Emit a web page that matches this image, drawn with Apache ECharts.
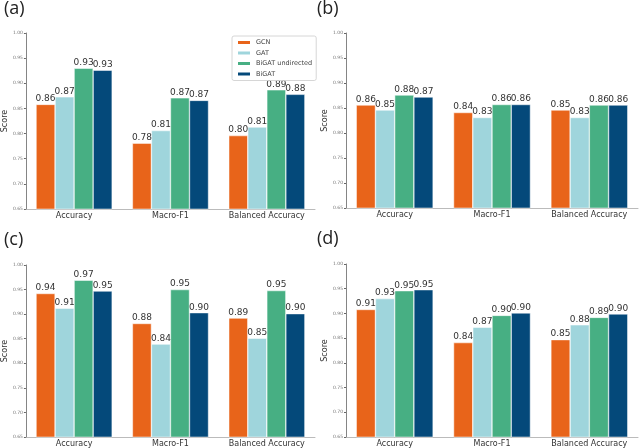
<!DOCTYPE html>
<html><head><meta charset="utf-8">
<script src="https://cdn.jsdelivr.net/npm/echarts@6/dist/echarts.min.js"></script>
<style>html,body{margin:0;padding:0;background:#fff}#c{width:640px;height:448px}</style>
</head><body><div id="c"></div>
<script>
const categories = ['Accuracy', 'Macro-F1', 'Balanced Accuracy'];
const seriesNames = ['GCN', 'GAT', 'BiGAT undirected', 'BiGAT'];
const panelLabels = ['(a)', '(b)', '(c)', '(d)'];
const yTicks = [0.65, 0.70, 0.75, 0.80, 0.85, 0.90, 0.95, 1.00];
// values per panel: [GCN, GAT, BiGAT undirected, BiGAT] x categories
const panelA = [[0.858, 0.781, 0.796], [0.873, 0.806, 0.813], [0.930, 0.871, 0.887], [0.926, 0.866, 0.878]];
const panelB = [[0.856, 0.841, 0.846], [0.846, 0.831, 0.831], [0.876, 0.857, 0.856], [0.872, 0.857, 0.856]];
const panelC = [[0.942, 0.881, 0.892], [0.912, 0.839, 0.851], [0.969, 0.950, 0.948], [0.947, 0.903, 0.901]];
const panelD = [[0.908, 0.841, 0.847], [0.930, 0.872, 0.877], [0.946, 0.896, 0.892], [0.948, 0.901, 0.899]];
const panels = [panelA, panelB, panelC, panelD];

const colors = ['#E8641A', '#9FD5DC', '#47AF83', '#04497A'];
const grids = [
  {left: 23, top: 33, width: 292, height: 176},
  {left: 346, top: 33, width: 292, height: 175},
  {left: 23, top: 265, width: 292, height: 175},
  {left: 346, top: 264, width: 292, height: 174}
];
const labelPos = [[4, 0], [317, 0], [4, 231], [317, 230]];
const font = 'DejaVu Sans';

const option = {
  animation: false,
  backgroundColor: '#fff',
  color: colors,
  textStyle: {fontFamily: font},
  grid: grids.map(g => Object.assign({containLabel: false}, g)),
  xAxis: grids.map((g, i) => ({
    type: 'category', gridIndex: i, data: categories,
    axisLine: {lineStyle: {color: '#aaa', width: 0.8}},
    axisTick: {alignWithLabel: true, length: 2, lineStyle: {color: '#555'}},
    axisLabel: {interval: 0, fontSize: 8, color: '#333', margin: 3, fontFamily: font}
  })),
  yAxis: grids.map((g, i) => ({
    type: 'value', gridIndex: i, min: 0.65, max: 1.0, interval: 0.05,
    name: 'Score', nameLocation: 'middle', nameGap: 15,
    nameTextStyle: {fontSize: 8, color: '#333', fontFamily: font},
    axisLine: {show: true, lineStyle: {color: '#666', width: 0.8}},
    axisTick: {show: true, length: 2, lineStyle: {color: '#666'}},
    splitLine: {show: false},
    axisLabel: {fontSize: 4.5, color: '#777', margin: 3, formatter: v => v.toFixed(2)}
  })),
  legend: {
    data: seriesNames, orient: 'vertical', left: 232, top: 36,
    itemWidth: 14, itemHeight: 5, itemGap: 3.5, icon: 'rect',
    textStyle: {fontSize: 6.5, color: '#444', fontFamily: font},
    borderColor: '#ccc', borderWidth: 0.8, borderRadius: 2, padding: [3, 4, 3, 4],
    backgroundColor: '#fff'
  },
  graphic: panelLabels.map((t, i) => ({
    type: 'text', left: labelPos[i][0], top: labelPos[i][1],
    style: {text: t, fontSize: 18, fill: '#222', fontFamily: 'Open Sans'}
  })),
  series: []
};

panels.forEach((p, pi) => {
  p.forEach((vals, si) => {
    option.series.push({
      type: 'bar', name: seriesNames[si], xAxisIndex: pi, yAxisIndex: pi,
      data: vals, barGap: '0%', barCategoryGap: '21%',
      itemStyle: {color: colors[si], borderColor: '#fff', borderWidth: 0.5},
      label: {show: true, position: 'top', distance: 1, fontSize: 9, color: '#333',
        fontFamily: font, formatter: d => d.value.toFixed(2)}
    });
  });
});

const chart = echarts.init(document.getElementById('c'), null, {renderer: 'canvas'});
chart.setOption(option);
</script></body></html>
